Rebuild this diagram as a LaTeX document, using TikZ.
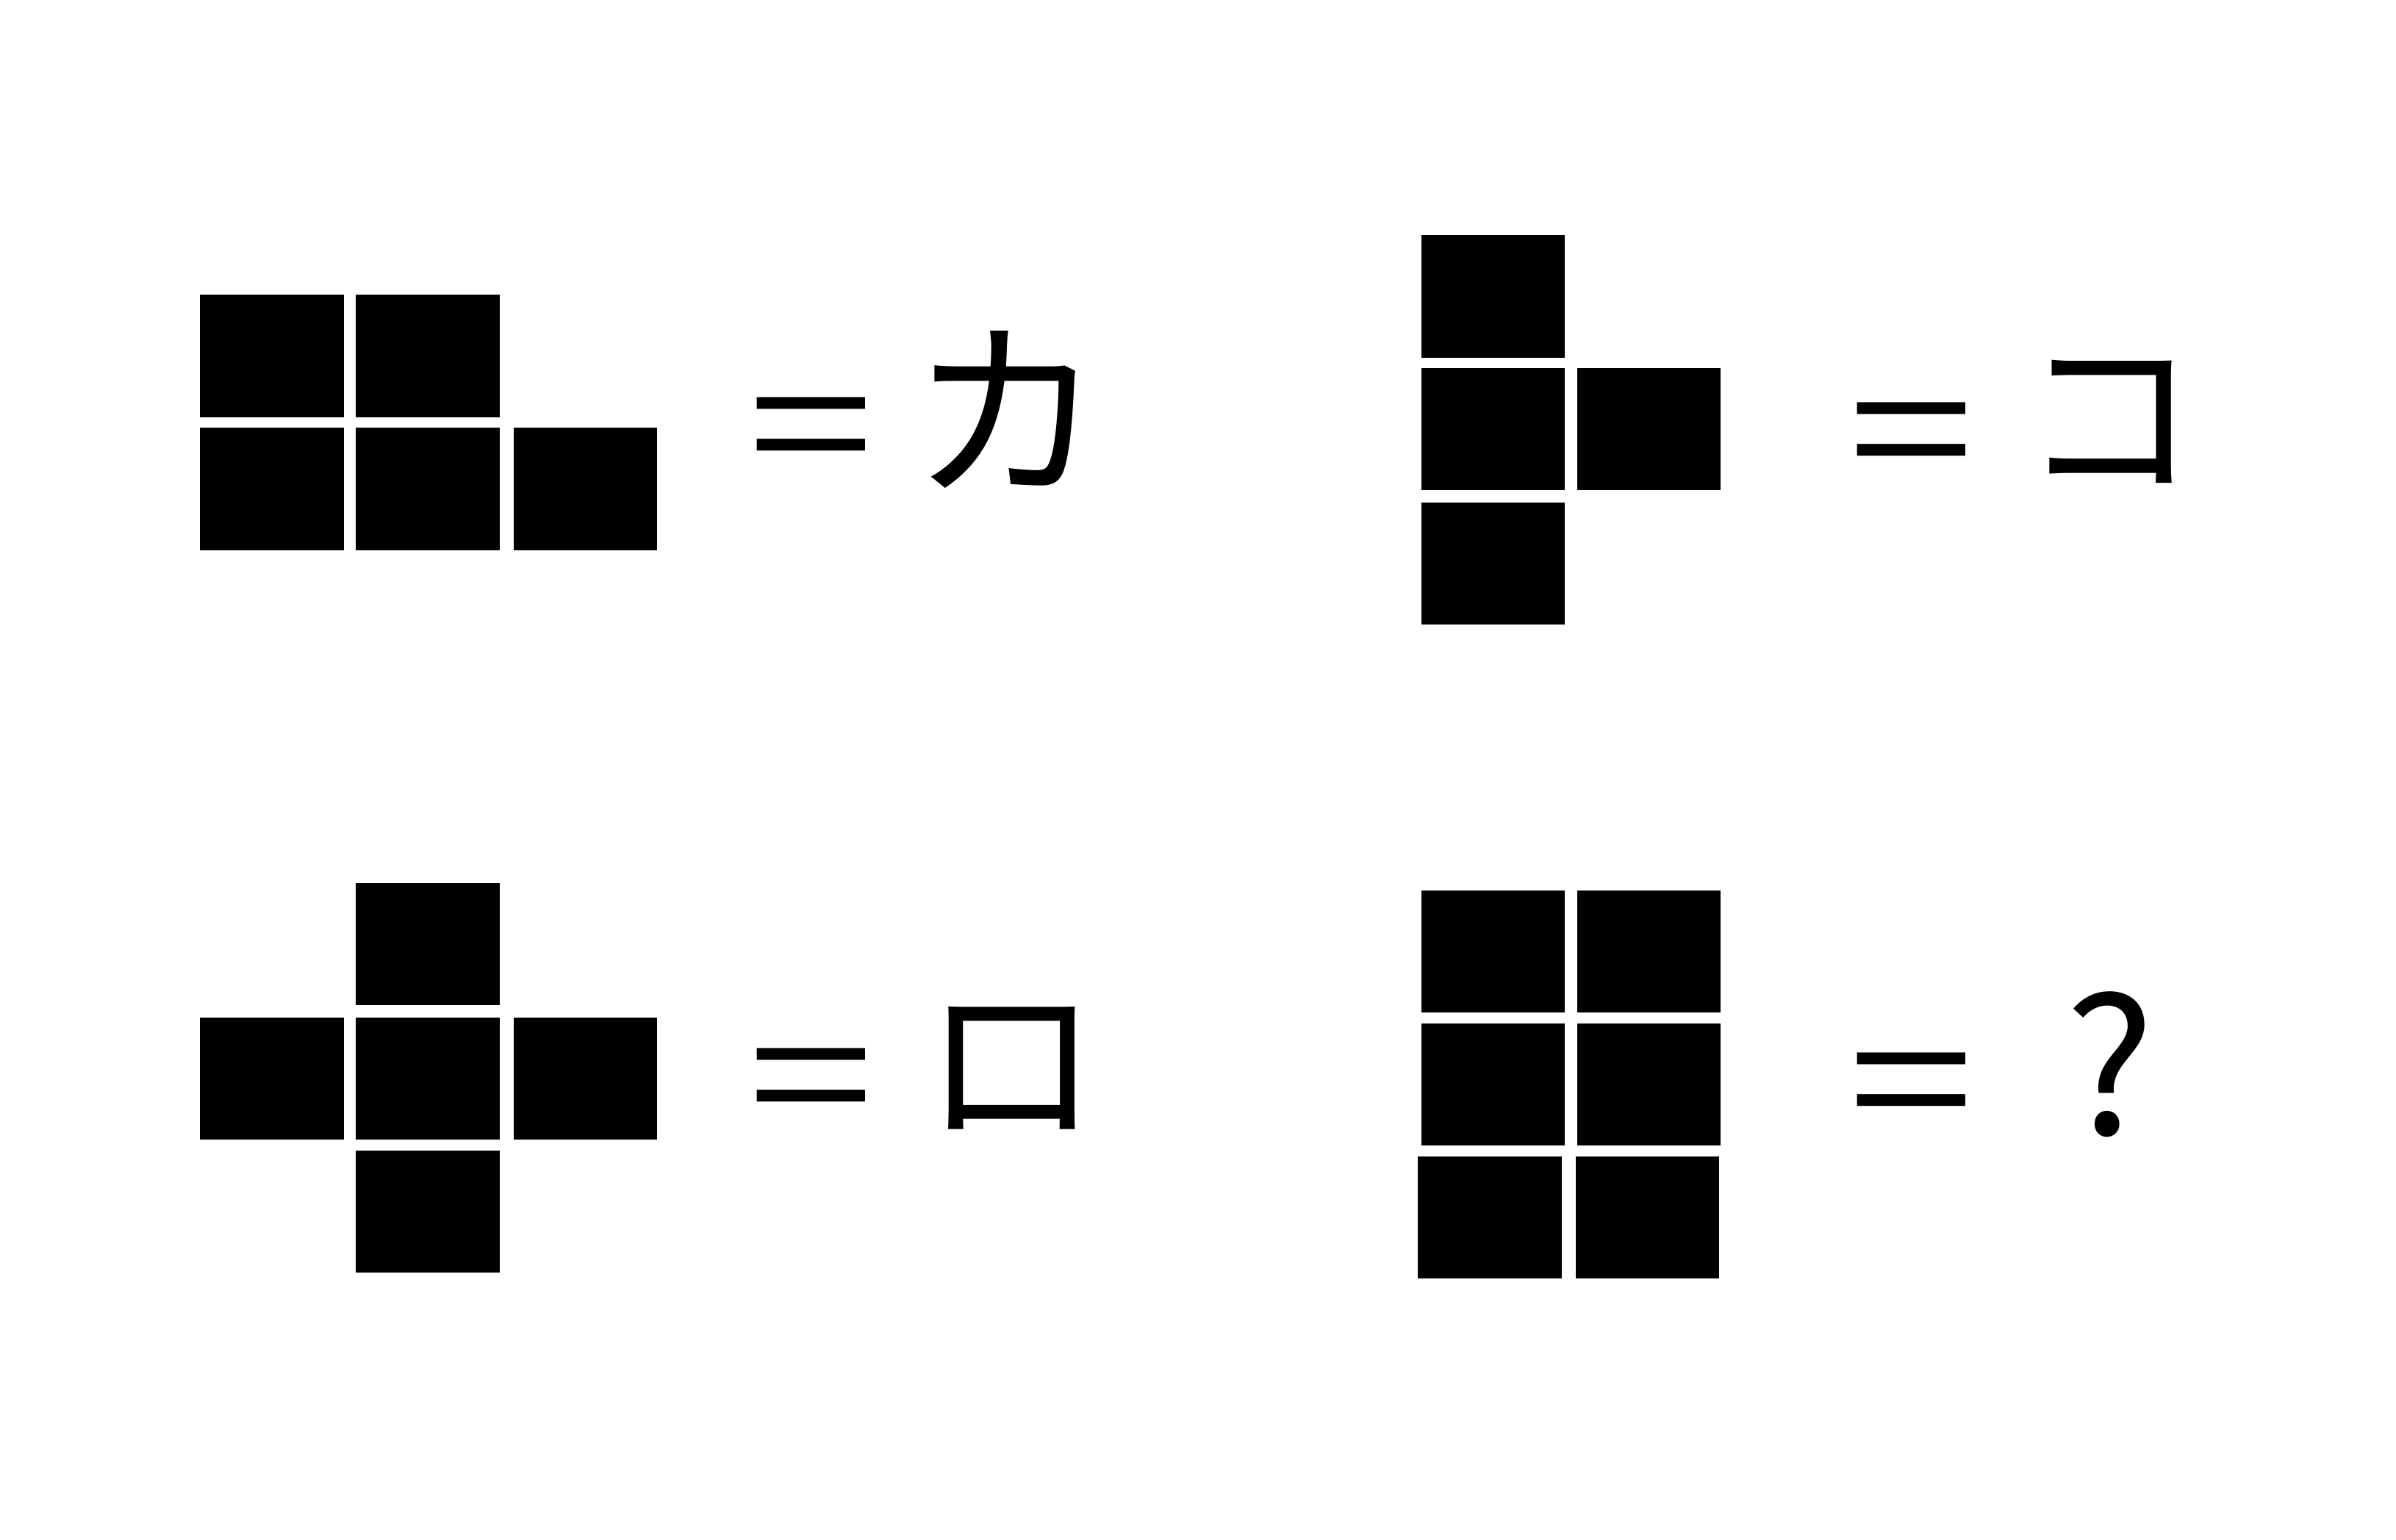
\documentclass[tikz,border=0pt]{standalone}
\usepackage{fontspec}
\newfontfamily\jpfont{Noto Sans CJK JP}

\tikzset{
  cell/.style={fill=black},
  kana/.style={font=\jpfont\fontsize{33}{33}\selectfont, inner sep=0pt},
  eqsign/.style={font=\jpfont\fontsize{42}{42}\selectfont, inner sep=0pt}
}
\newcommand{\flateq}{\scalebox{1}[0.77]{=}}

\begin{document}
\begin{tikzpicture}[x=0.1mm,y=-0.1mm]
  \useasboundingbox (0,0) rectangle (1568,1008);

  % top left: ka
  \foreach \x/\y in {131/193, 233/193, 131/280, 233/280, 336/280}
    \fill[cell] (\x,\y) rectangle ++(94,80);
  \node[eqsign] (eqka) at (531,290) {\flateq};
  \node[kana, font=\jpfont\fontsize{36}{36}\selectfont] (ka) at (659,268) {カ};

  % top right: ko
  \foreach \x/\y in {930/154, 930/241, 1032/241, 930/329}
    \fill[cell] (\x,\y) rectangle ++(94,80);
  \node[eqsign] (eqko) at (1251,293) {\flateq};
  \node[kana] (ko) at (1381,276) {コ};

  % bottom left: ro
  \foreach \x/\y in {233/578, 131/666, 233/666, 336/666, 233/753}
    \fill[cell] (\x,\y) rectangle ++(94,80);
  \node[eqsign] (eqro) at (531,716) {\flateq};
  \node[kana] (ro) at (662,699) {ロ};

  % bottom right: unknown
  \foreach \x/\y in {930/583, 1032/583, 930/670, 1032/670, 928/757, 1031/757}
    \fill[cell] (\x,\y) rectangle ++(94,80);
  \node[eqsign] (eqq) at (1251,719) {\flateq};
  \node[kana, font=\jpfont\fontsize{35}{35}\selectfont] (qq) at (1381,697) {?};
\end{tikzpicture}
\end{document}
